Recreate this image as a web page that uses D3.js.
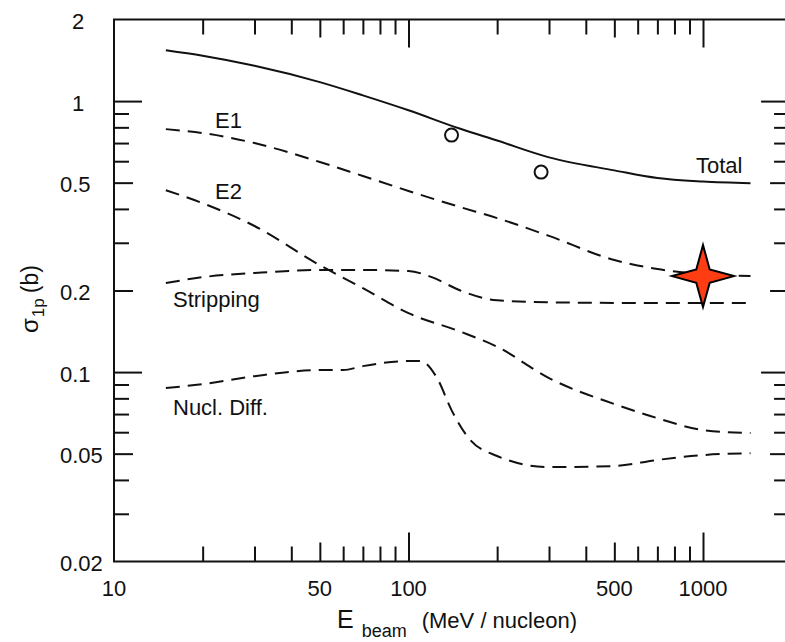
<!DOCTYPE html>
<html>
<head>
<meta charset="utf-8">
<script src="https://cdn.jsdelivr.net/npm/d3@7"></script>
<style>
  html, body { margin: 0; padding: 0; background: #fff; }
  svg { display: block; }
  text { font-family: "Liberation Sans", Arial, Helvetica, sans-serif; fill: #111; }
</style>
</head>
<body>
<div id="chart"></div>
<script>
// ---------------- data ----------------
const totalE     = [15, 20, 30, 50, 70, 100, 150, 200, 300, 500, 700, 1000, 1450];
const totalSigma = [1.54, 1.47, 1.35, 1.175, 1.05, 0.925, 0.79, 0.715, 0.62, 0.555, 0.52, 0.505, 0.498];

const e1E     = [15, 20, 30, 50, 70, 100, 150, 200, 300, 500, 700, 1000, 1450];
const e1Sigma = [0.788, 0.762, 0.70, 0.596, 0.529, 0.466, 0.406, 0.37, 0.318, 0.259, 0.240, 0.230, 0.226];

const e2E     = [15, 20, 30, 50, 70, 100, 150, 200, 300, 500, 700, 1000, 1450];
const e2Sigma = [0.469, 0.42, 0.346, 0.248, 0.204, 0.165, 0.141, 0.124, 0.095, 0.0762, 0.0676, 0.0611, 0.0596];

const stripE     = [15, 20, 30, 50, 70, 100, 120, 150, 200, 300, 500, 1000, 1450];
const stripSigma = [0.213, 0.224, 0.232, 0.238, 0.238, 0.236, 0.224, 0.200, 0.184, 0.181, 0.180, 0.180, 0.180];

const nuclE     = [15, 20, 30, 50, 60, 70, 100, 110, 125, 140, 160, 200, 300, 500, 700, 1000, 1450];
const nuclSigma = [0.0873, 0.0903, 0.0966, 0.1017, 0.1017, 0.1052, 0.1098, 0.1098, 0.0951, 0.0724, 0.0571, 0.049, 0.0446, 0.045, 0.0474, 0.0494, 0.0502];

const expE     = [140, 282];
const expSigma = [0.749, 0.547];

const starE     = [1000];
const starSigma = [0.226];

const curveNames  = ["Total", "E1", "E2", "Stripping", "Nucl. Diff."];

const xTickLabels = [10, 50, 100, 500, 1000];
const xMajorTicks = [100, 1000];
const xMediumTicks = [50, 500];
const xMinorTicks = [20, 30, 40, 60, 70, 80, 90, 200, 300, 400, 600, 700, 800, 900];

const yTickLabels = [2, 1, 0.5, 0.2, 0.1, 0.05, 0.02];
const yMajorTicks = [1, 0.1];
const yMediumTicks = [0.5, 0.2, 0.05];
const yMinorTicks = [0.9, 0.8, 0.7, 0.6, 0.4, 0.3, 0.09, 0.08, 0.07, 0.06, 0.04, 0.03];

// ---------------- layout ----------------
const W = 785, H = 642;
const pLeft = 114, pTop = 19.5, pBottom = 561.5;
const decadeX = 294.5;
const xMax = 1960;
const pRight = pLeft + Math.log10(xMax / 10) * decadeX;

const svg = d3.select("#chart").append("svg").attr("width", W).attr("height", H);

const x = d3.scaleLog().domain([10, xMax]).range([pLeft, pRight]);
const y = d3.scaleLog().domain([0.02, 2]).range([pBottom, pTop]);

// ---------------- frame ----------------
svg.append("rect")
  .attr("x", pLeft).attr("y", pTop)
  .attr("width", pRight - pLeft).attr("height", pBottom - pTop)
  .attr("fill", "none").attr("stroke", "#111").attr("stroke-width", 2);

// ---------------- ticks via d3 axes ----------------
function tickSet(axisFn, scale, vals, size, tx, ty) {
  const g = svg.append("g").attr("transform", `translate(${tx},${ty})`)
    .call(axisFn(scale).tickValues(vals).tickSize(size).tickFormat(""));
  g.select(".domain").remove();
  g.selectAll(".tick line").attr("stroke", "#111").attr("stroke-width", 2);
}
tickSet(d3.axisBottom, x, xMinorTicks, -15, 0, pBottom);
tickSet(d3.axisBottom, x, xMediumTicks, -19, 0, pBottom);
tickSet(d3.axisBottom, x, xMajorTicks, -29, 0, pBottom);
tickSet(d3.axisTop, x, xMinorTicks, -15, 0, pTop);
tickSet(d3.axisTop, x, xMediumTicks, -18, 0, pTop);
tickSet(d3.axisTop, x, xMajorTicks, -28, 0, pTop);
tickSet(d3.axisLeft, y, yMinorTicks, -15, pLeft, 0);
tickSet(d3.axisLeft, y, yMediumTicks, -19, pLeft, 0);
tickSet(d3.axisLeft, y, yMajorTicks, -28, pLeft, 0);
tickSet(d3.axisRight, y, yMinorTicks, -15, pRight, 0);
tickSet(d3.axisRight, y, yMediumTicks, -19, pRight, 0);
tickSet(d3.axisRight, y, yMajorTicks, -28, pRight, 0);

// ---------------- tick labels ----------------
svg.append("g").selectAll("text").data(xTickLabels).join("text")
  .attr("x", d => x(d)).attr("y", 596)
  .attr("text-anchor", "middle").attr("font-size", 22)
  .text(d => String(d));

svg.append("g").selectAll("text").data(yTickLabels).join("text")
  .attr("x", d => d >= 1 ? 72 : 60)
  .attr("y", d => y(d) + 2).attr("dy", "0.35em")
  .attr("text-anchor", "start").attr("font-size", 22)
  .text(d => String(d));

// ---------------- axis titles ----------------
const xt = svg.append("text").attr("x", 337).attr("y", 628).attr("font-size", 25);
xt.append("tspan").text("E");
xt.append("tspan").attr("font-size", 18).attr("dx", 8).attr("dy", 9).text("beam");
xt.append("tspan").attr("font-size", 22).attr("dx", 15).attr("dy", -9).text("(MeV / nucleon)");

const yt = svg.append("text")
  .attr("transform", "translate(38,333) rotate(-90)")
  .attr("font-size", 24);
yt.append("tspan").text("σ");
yt.append("tspan").attr("font-size", 17).attr("dy", 6).attr("dx", 1).text("1p");
yt.append("tspan").attr("font-size", 23).attr("dy", -6).attr("dx", 5).text("(b)");

// ---------------- curves ----------------
const line = d3.line().x(d => x(d[0])).y(d => y(d[1])).curve(d3.curveMonotoneX);
const zip = (a, b) => a.map((v, i) => [v, b[i]]);

const series = [
  { name: curveNames[0], pts: zip(totalE, totalSigma), dash: null },
  { name: curveNames[1], pts: zip(e1E, e1Sigma), dash: "14,8" },
  { name: curveNames[2], pts: zip(e2E, e2Sigma), dash: "14,8" },
  { name: curveNames[3], pts: zip(stripE, stripSigma), dash: "14,8" },
  { name: curveNames[4], pts: zip(nuclE, nuclSigma), dash: "14,8" }
];

svg.append("g").selectAll("path").data(series).join("path")
  .attr("d", d => line(d.pts))
  .attr("fill", "none").attr("stroke", "#111").attr("stroke-width", 2)
  .attr("stroke-dasharray", d => d.dash);

const labelPos = [[696, 173], [215, 128], [215, 199], [173, 307], [173, 415]];
svg.append("g").selectAll("text").data(curveNames).join("text")
  .attr("x", (d, i) => labelPos[i][0]).attr("y", (d, i) => labelPos[i][1])
  .attr("font-size", 22)
  .text(d => d);

svg.append("g").selectAll("circle").data(zip(expE, expSigma)).join("circle")
  .attr("cx", d => x(d[0])).attr("cy", d => y(d[1])).attr("r", 6.5)
  .attr("fill", "#fff").attr("stroke", "#111").attr("stroke-width", 2);

function star4(R, r) {
  const p = [];
  for (let i = 0; i < 8; i++) {
    const a = -Math.PI / 2 + i * Math.PI / 4;
    const rad = i % 2 === 0 ? R : r;
    p.push([rad * Math.cos(a), rad * Math.sin(a)]);
  }
  return "M" + p.map(q => q.join(",")).join("L") + "Z";
}
svg.append("g").selectAll("path").data(zip(starE, starSigma)).join("path")
  .attr("transform", d => `translate(${x(d[0])},${y(d[1])})`)
  .attr("d", star4(31, 9.5))
  .attr("fill", "#ff3d12").attr("stroke", "#000").attr("stroke-width", 2)
  .attr("stroke-linejoin", "miter");
</script>
</body>
</html>
